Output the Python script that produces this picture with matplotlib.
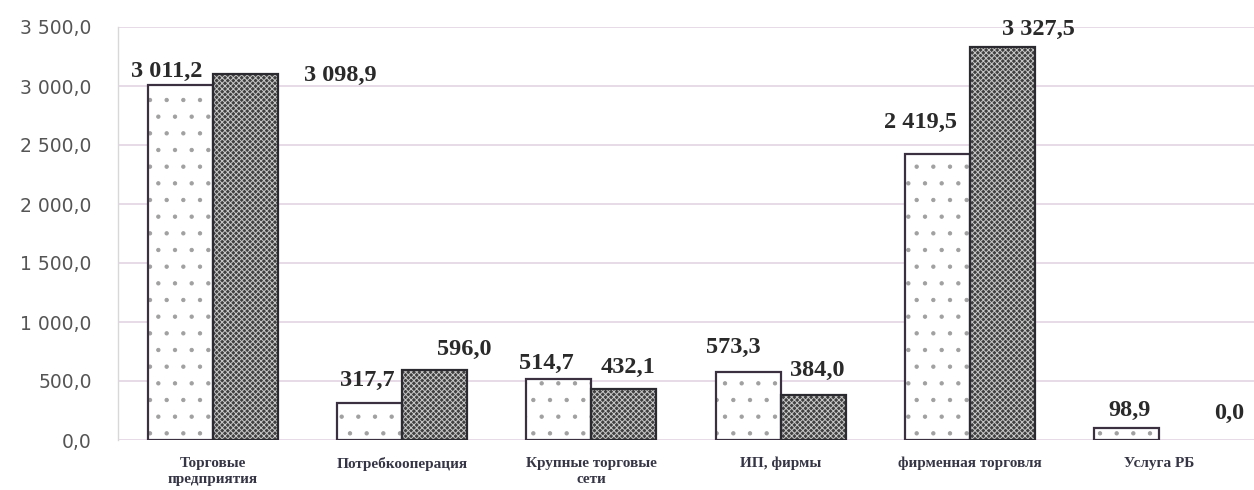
import matplotlib
matplotlib.use("Agg")
import matplotlib.pyplot as plt
import numpy as np

categories = ["Торговые\nпредприятия", "Потребкооперация", "Крупные торговые\nсети",
              "ИП, фирмы", "фирменная торговля", "Услуга РБ"]
series_a = [3011.2, 317.7, 514.7, 573.3, 2419.5, 98.9]
series_b = [3098.9, 596.0, 432.1, 384.0, 3327.5, 0.0]
y_ticks = [0, 500, 1000, 1500, 2000, 2500, 3000, 3500]

# label offsets (pixels) relative to bar top centre
off_a = [(-13, 13), (-2, 22), (-12, 16), (-15, 25), (-17, 32), (3, 18)]
off_b = [(95, -1), (30, 20), (4, 22), (4, 24), (36, 18), (37, 27)]


def fmt(v):
    return f"{v:,.1f}".replace(",", " ").replace(".", ",")


plt.rcParams["hatch.linewidth"] = 0.7

fig = plt.figure(figsize=(12.54, 4.90), dpi=100)
ax = fig.add_axes([118 / 1254, 1 - 440 / 490, 1 - 118 / 1254, (440 - 27) / 490])

x = np.arange(len(categories))
w = 0.344

# series A: white with sparse dots
ax.bar(x - w / 2, series_a, w, color="white", edgecolor="#a0a0a0", hatch=".", linewidth=0, zorder=2)
ax.bar(x - w / 2, series_a, w, fill=False, edgecolor="#3a3040", linewidth=1.6, zorder=3)
# series B: dark checkered
ax.bar(x + w / 2, series_b, w, color="#404040", edgecolor="#c8c8c8", hatch="xxxxxx", linewidth=0, zorder=2)
lw_b = [1.6 if v > 0 else 0 for v in series_b]
ax.bar(x + w / 2, series_b, w, fill=False, edgecolor="#2a2a30", linewidth=lw_b, zorder=3)

lab_kw = dict(textcoords="offset pixels", ha="center", va="center",
              fontsize=17.5, fontweight="bold", family="Liberation Serif", color="#2a2a2a", zorder=5)
for i in range(len(categories)):
    ax.annotate(fmt(series_a[i]), (x[i] - w / 2, series_a[i]), xytext=off_a[i], **lab_kw)
    ax.annotate(fmt(series_b[i]), (x[i] + w / 2, series_b[i]), xytext=off_b[i], **lab_kw)

ax.set_ylim(0, 3500)
ax.set_xlim(-0.5, len(categories) - 0.5)
ax.set_yticks(y_ticks)
ax.set_yticklabels([fmt(v) for v in y_ticks], fontsize=13.5, color="#555555", family="DejaVu Sans")
ax.yaxis.grid(True, color="#e4d4e4", linewidth=1.2, zorder=0)
ax.set_axisbelow(True)

ax.set_xticks(x)
ax.set_xticklabels(categories, fontsize=11, fontweight="bold", family="Liberation Serif",
                   color="#353545", linespacing=1.3)
ax.tick_params(axis="x", length=0, pad=12)
ax.tick_params(axis="y", length=0, pad=19)

for s in ["top", "right", "bottom"]:
    ax.spines[s].set_visible(False)
ax.spines["left"].set_color("#d8d8d8")
ax.spines["left"].set_linewidth(1.0)

fig.savefig("out.png", dpi=100)
